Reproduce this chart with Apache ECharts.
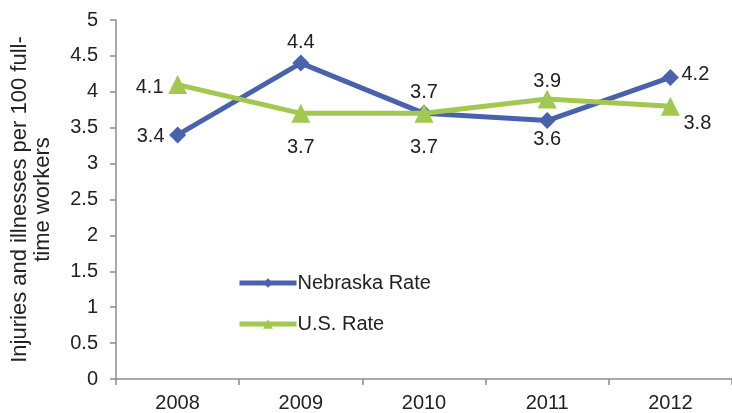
<!DOCTYPE html>
<html><head><meta charset="utf-8">
<script src="https://cdn.jsdelivr.net/npm/echarts@6/dist/echarts.min.js"></script>
<style>html,body{margin:0;padding:0;background:#fff}#c{width:732px;height:413px}</style>
</head><body><div id="c"></div>
<script>
const categories = ['2008','2009','2010','2011','2012'];
const nebraska = [3.4, 4.4, 3.7, 3.6, 4.2];
const usRate = [4.1, 3.7, 3.7, 3.9, 3.8];
const nebraskaLabelOffsets = [[-27,2],[0,-21],[0,-21],[0,19],[25,-3]];
const usLabelOffsets = [[-28,3],[0,34],[0,34],[0,-17],[27,17]];

const font = 'Liberation Sans, Arial, sans-serif';
function mk(vals, offs) {
  return vals.map((v,i)=>({value:v,label:{position:'inside',offset:offs[i]}}));
}
const chart = echarts.init(document.getElementById('c'), null, {renderer:'canvas'});
chart.setOption({
  animation:false,
  textStyle:{fontFamily:font},
  grid:{left:116, top:20, width:617, height:359, containLabel:false},
  legend:{
    orient:'vertical', left:232, top:268, itemWidth:57, itemHeight:12, itemGap:21,
    lineStyle:{width:5},
    textStyle:{fontSize:20, color:'#222', fontFamily:font, padding:[0,0,0,-4]},
    data:['Nebraska Rate','U.S. Rate']
  },
  xAxis:{
    type:'category', data:categories, boundaryGap:true,
    axisLine:{lineStyle:{color:'#8c8c8c', width:1.5}},
    axisTick:{show:true, length:6, lineStyle:{color:'#8c8c8c', width:1.5}},
    axisLabel:{fontSize:20, color:'#222', margin:14, fontFamily:font}
  },
  yAxis:{
    type:'value', min:0, max:5, interval:0.5,
    name:'Injuries and illnesses per 100 full-\ntime workers',
    nameLocation:'middle', nameRotate:90, nameGap:62,
    nameTextStyle:{fontSize:22, color:'#222', lineHeight:23, fontFamily:font},
    splitLine:{show:false},
    axisLine:{show:true, lineStyle:{color:'#8c8c8c', width:1.5}},
    axisTick:{show:true, length:6, lineStyle:{color:'#8c8c8c', width:1.5}},
    axisLabel:{fontSize:20, color:'#222', margin:18, fontFamily:font}
  },
  series:[
    {
      name:'Nebraska Rate', type:'line', data:mk(nebraska, nebraskaLabelOffsets),
      symbol:'diamond', symbolSize:17,
      lineStyle:{color:'#4a62ae', width:5},
      itemStyle:{color:'#4a62ae'},
      label:{show:true, fontSize:20, color:'#222', fontFamily:font},
      z:2
    },
    {
      name:'U.S. Rate', type:'line', data:mk(usRate, usLabelOffsets),
      symbol:'triangle', symbolSize:19,
      lineStyle:{color:'#a2c850', width:5},
      itemStyle:{color:'#a2c850'},
      label:{show:true, fontSize:20, color:'#222', fontFamily:font},
      z:3
    }
  ]
});
</script></body></html>
